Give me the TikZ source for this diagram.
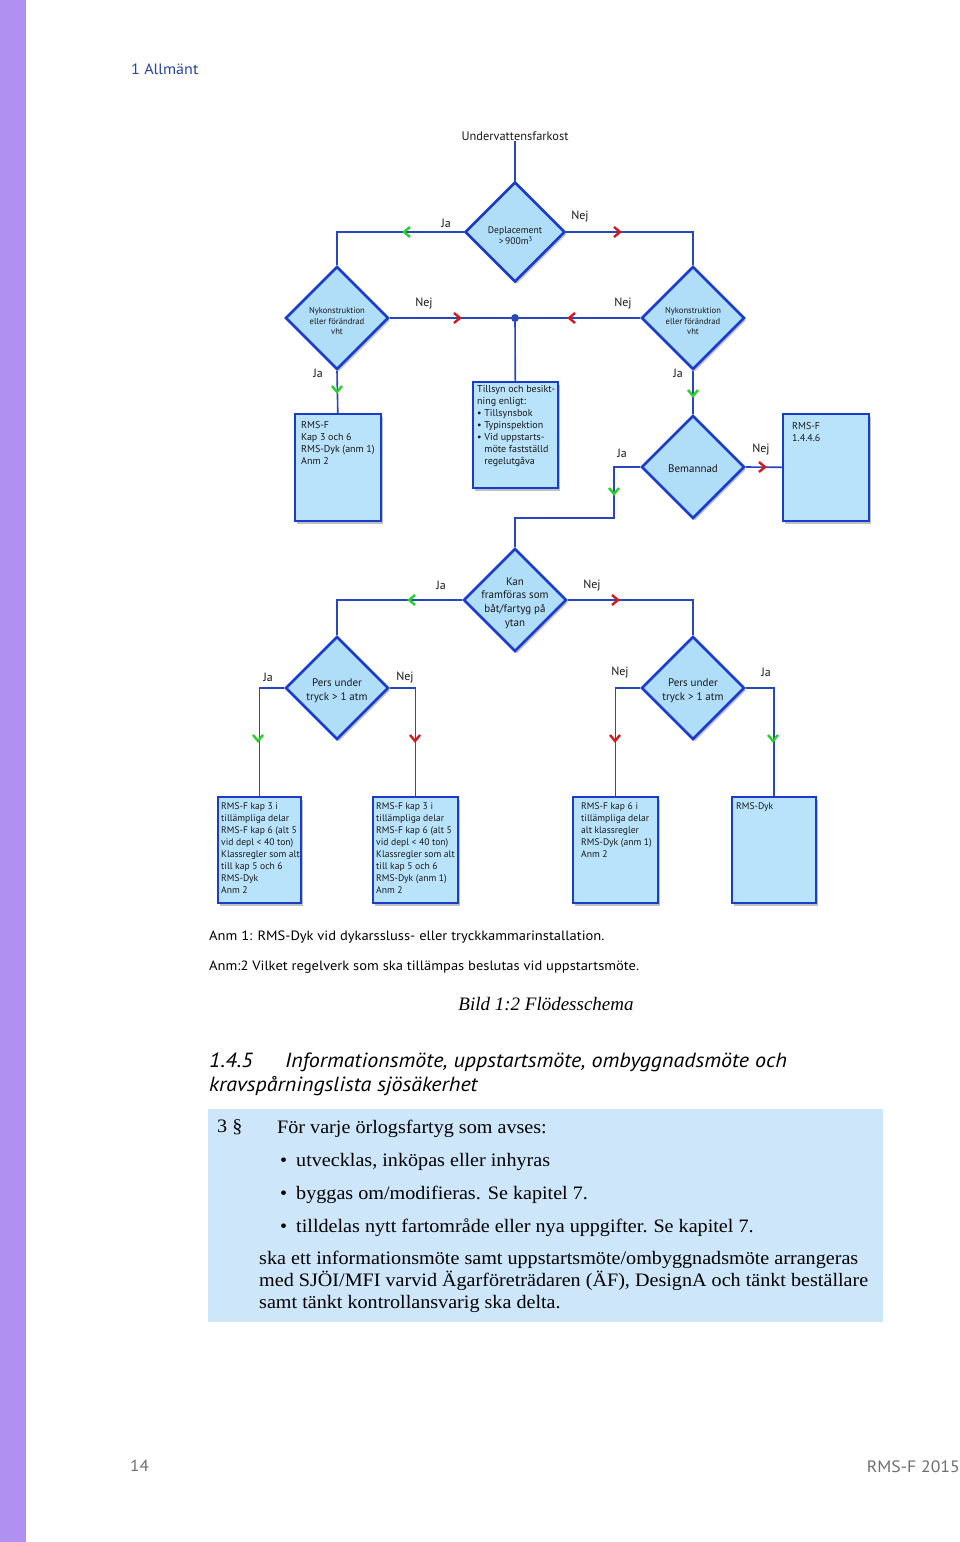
\documentclass[tikz,border=0pt]{standalone}
\usepackage{fontspec}
\setmainfont{Liberation Serif}
\setsansfont{PT Sans}
\newfontfamily\widesans{PT Sans}[FakeStretch=1.075]
\newfontfamily\lawfont{Liberation Serif}[FakeStretch=1.06]
\usetikzlibrary{shapes.geometric,shadows}
\definecolor{barpurple}{RGB}{176,144,240}
\definecolor{headblue}{RGB}{34,68,170}
\definecolor{lineblue}{RGB}{40,70,190}
\definecolor{dblue}{RGB}{26,60,205}
\definecolor{dfill}{RGB}{176,221,248}
\definecolor{bfill}{RGB}{185,227,251}
\definecolor{jagreen}{RGB}{40,210,40}
\definecolor{nejred}{RGB}{215,25,25}
\definecolor{lawfill}{RGB}{205,230,250}
\definecolor{footgray}{RGB}{110,110,110}
\begin{document}
\begin{tikzpicture}[x=1pt,y=-1pt,
  dia/.style={diamond, aspect=1, draw=dblue, line width=2.6pt, fill=dfill,
    minimum size=103pt, inner sep=-14pt,
    drop shadow={shadow xshift=2pt, shadow yshift=-2.5pt, opacity=0.3, fill=black!70}},
  dtext/.style={align=center, inner sep=0pt, text=black!90, yshift=-3pt,
    font=\sffamily\fontsize{11}{13.7}\selectfont},
  smalltext/.style={dtext, font=\sffamily\fontsize{8.6}{10.6}\selectfont},
  box/.style={draw=dblue, line width=1.6pt, fill=bfill, inner sep=0pt, anchor=north west,
    drop shadow={shadow xshift=2.5pt, shadow yshift=-3pt, opacity=0.35, fill=black!70}},
  boxtext/.style={anchor=north west, inner sep=0pt, align=left, text=black!90,
    font=\sffamily\fontsize{9.6}{12.1}\selectfont},
  conn/.style={draw=lineblue, line width=1.6pt},
  lab/.style={inner sep=0pt, text=black!90, font=\sffamily\fontsize{12}{14}\selectfont},
  chevR/.pic={\draw[line width=2.4pt, line join=miter] (-3,-5) -- (3,0) -- (-3,5);},
  chevL/.pic={\draw[line width=2.4pt, line join=miter] (3,-5) -- (-3,0) -- (3,5);},
  chevD/.pic={\draw[line width=2.4pt, line join=miter] (-5,-3) -- (0,3) -- (5,-3);},
  law/.style={anchor=base west, inner sep=0pt, font=\lawfont\fontsize{19}{22}\selectfont},
  note/.style={anchor=base west, inner sep=0pt, font=\widesans\fontsize{13.5}{16}\selectfont},
  head/.style={anchor=base west, inner sep=0pt, font=\widesans\itshape\fontsize{20.5}{24}\selectfont},
]
\useasboundingbox (0,0) rectangle (960,1542);
\fill[white] (0,0) rectangle (960,1542);
\fill[barpurple] (0,0) rectangle (26,1542);

% header
\node[anchor=base west, inner sep=0pt, text=headblue, font=\widesans\fontsize{15}{18}\selectfont] (hdr) at (131,74) {1 Allmänt};

% diagram nodes
\node[lab, font=\sffamily\fontsize{12.4}{14}\selectfont] (title) at (515,136) {Undervattensfarkost};
\node[dia, minimum size=100pt, label={[dtext, yshift=-1pt, font=\sffamily\fontsize{9.6}{12}\selectfont]center:{Deplacement\\[-1pt]\,{>}\,900m\textsuperscript{3}}}] (d1) at (515,232) {};
\node[dia, label={[smalltext]center:{Nykonstruktion\\eller förändrad\\vht}}] (d2) at (337,318) {};
\node[dia, label={[smalltext]center:{Nykonstruktion\\eller förändrad\\vht}}] (d3) at (693,318) {};
\node[circle, fill=lineblue, inner sep=0pt, minimum size=8pt] (dot) at (515,318) {};

\node[box, minimum width=86pt, minimum height=107pt] (kap3) at (294,413) {};
\node[boxtext, font=\sffamily\fontsize{10}{12}\selectfont] (kap3t) at (301,421) {RMS-F\\Kap 3 och 6\\RMS-Dyk (anm 1)\\Anm 2};
\node[box, minimum width=85pt, minimum height=106pt] (tills) at (472,381) {};
\node[boxtext, font=\sffamily\fontsize{10}{12}\selectfont] (tillst) at (477,385) {Tillsyn och besikt-\\ning enligt:\\\textbullet\ Tillsynsbok\\\textbullet\ Typinspektion\\\textbullet\ Vid uppstarts-\\\phantom{\textbullet\ }möte fastställd\\\phantom{\textbullet\ }regelutgåva};
\node[dia, label={[dtext, yshift=1pt]center:Bemannad}] (bem) at (693,467) {};
\node[box, minimum width=86pt, minimum height=107pt] (r146) at (782,413) {};
\node[boxtext, font=\sffamily\fontsize{10}{12}\selectfont] (r146t) at (792,422) {RMS-F\\1.4.4.6};

\node[dia, label={[dtext]center:{Kan\\framföras som\\båt/fartyg på\\ytan}}] (kan) at (515,600) {};
\node[dia, label={[dtext]center:{Pers under\\tryck > 1 atm}}] (pl) at (337,688) {};
\node[dia, label={[dtext]center:{Pers under\\tryck > 1 atm}}] (pr) at (693,688) {};

\node[box, minimum width=83pt, minimum height=106pt] (b1) at (217,796) {};
\node[boxtext] (b1t) at (221,802) {RMS-F kap 3 i\\tillämpliga delar\\RMS-F kap 6 (alt 5\\vid depl < 40 ton)\\Klassregler som alt\\till kap 5 och 6\\RMS-Dyk\\Anm 2};
\node[box, minimum width=85pt, minimum height=106pt] (b2) at (372,796) {};
\node[boxtext] (b2t) at (376,802) {RMS-F kap 3 i\\tillämpliga delar\\RMS-F kap 6 (alt 5\\vid depl < 40 ton)\\Klassregler som alt\\till kap 5 och 6\\RMS-Dyk (anm 1)\\Anm 2};
\node[box, minimum width=85pt, minimum height=106pt] (b3) at (572,796) {};
\node[boxtext] (b3t) at (581,802) {RMS-F kap 6 i\\tillämpliga delar\\alt klassregler\\RMS-Dyk (anm 1)\\Anm 2};
\node[box, minimum width=84pt, minimum height=106pt] (b4) at (731,796) {};
\node[boxtext] (b4t) at (736,802) {RMS-Dyk};

% connectors
\coordinate (jb) at (614,518);
\draw[conn] (title) -- (d1.north);
\draw[conn] (d1.west) -| (d2.north);
\draw[conn] (d1.east) -| (d3.north);
\draw[conn] (d2.east) -- (dot);
\draw[conn] (d3.west) -- (dot);
\draw[conn] (dot) -- (tills.north);
\draw[conn] (d2.south) -- (kap3.north);
\draw[conn] (d3.south) -- (bem.north);
\draw[conn] (bem.east) -- (r146.west);
\draw[conn] (bem.west) -| (jb) -| (kan.north);
\draw[conn] (kan.west) -| (pl.north);
\draw[conn] (kan.east) -| (pr.north);
\draw[conn] (pl.west) -| (b1.north);
\draw[conn] (pl.east) -| (b2.north);
\draw[conn] (pr.west) -| (b3.north);
\draw[conn] (pr.east) -| (b4.north);

% chevrons
\pic[jagreen] at (407,232) {chevL};
\pic[nejred] at (617,232) {chevR};
\pic[nejred] at (457,318) {chevR};
\pic[nejred] at (572,318) {chevL};
\pic[jagreen] at (337,389) {chevD};
\pic[jagreen] at (693,393) {chevD};
\pic[nejred] at (762,467) {chevR};
\pic[jagreen] at (614,491) {chevD};
\pic[jagreen] at (412,600) {chevL};
\pic[nejred] at (615,600) {chevR};
\pic[jagreen] at (258,738) {chevD};
\pic[nejred] at (415,738) {chevD};
\pic[nejred] at (615,738) {chevD};
\pic[jagreen] at (773,738) {chevD};

% connector labels
\node[lab] at (446,223) {Ja};
\node[lab] at (580,217) {Nej};
\node[lab] at (424,304) {Nej};
\node[lab] at (623,304) {Nej};
\node[lab] at (318,373) {Ja};
\node[lab] at (678,373) {Ja};
\node[lab] at (622,453) {Ja};
\node[lab] at (761,449) {Nej};
\node[lab] at (441,585) {Ja};
\node[lab] at (592,585) {Nej};
\node[lab] at (268,677) {Ja};
\node[lab] at (405,677) {Nej};
\node[lab] at (620,672) {Nej};
\node[lab] at (766,672) {Ja};

% notes
\node[note] (anm1) at (209,940) {Anm 1: RMS-Dyk vid dykarssluss- eller tryckkammarinstallation.};
\node[note] (anm2) at (209,970) {Anm:2 Vilket regelverk som ska tillämpas beslutas vid uppstartsmöte.};
\node[anchor=base, inner sep=0pt, font=\itshape\fontsize{19}{22}\selectfont] (cap) at (546,1010) {Bild 1:2 Flödesschema};

% heading
\node[head] (h1) at (209,1067) {1.4.5};
\node[head] (h2) at (285,1067) {Informationsmöte, uppstartsmöte, ombyggnadsmöte och};
\node[head] (h3) at (209,1091) {kravspårningslista sjösäkerhet};

% law box
\fill[lawfill] (208,1109) rectangle (883,1322);
\node[law] (p0) at (217,1132) {3 §};
\node[law] (p1) at (277,1133) {För varje örlogsfartyg som avses:};
\node[law] (l1) at (280,1166) {\textbullet\hspace{9pt}utvecklas, inköpas eller inhyras};
\node[law] (l2) at (280,1199) {\textbullet\hspace{9pt}byggas om/modifieras.\hspace{7pt}Se kapitel 7.};
\node[law] (l3) at (280,1232) {\textbullet\hspace{9pt}tilldelas nytt fartområde eller nya uppgifter.\hspace{6pt}Se kapitel 7.};
\node[law] (q1) at (259,1264) {ska ett informationsmöte samt uppstartsmöte/ombyggnadsmöte arrangeras};
\node[law] (q2) at (259,1286) {med SJÖI/MFI varvid Ägarföreträdaren (ÄF), DesignA och tänkt beställare};
\node[law] (q3) at (259,1308) {samt tänkt kontrollansvarig ska delta.};

% footer
\node[anchor=base west, inner sep=0pt, text=footgray, font=\widesans\fontsize{16}{19}\selectfont] (pg) at (130,1471) {14};
\node[anchor=base east, inner sep=0pt, text=footgray, font=\widesans\fontsize{16.5}{19}\selectfont] (ft) at (960,1472) {RMS-F 2015};
\end{tikzpicture}
\end{document}
